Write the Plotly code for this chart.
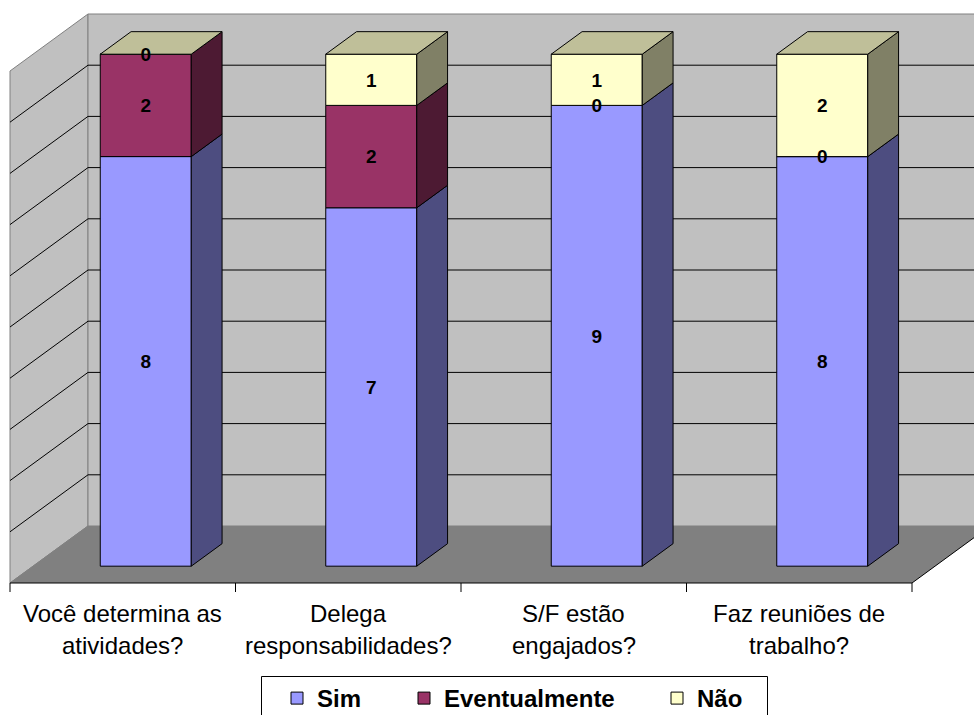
import plotly.graph_objects as go

# ---- data ----
categories = [
    ["Você determina as", "atividades?"],
    ["Delega", "responsabilidades?"],
    ["S/F estão", "engajados?"],
    ["Faz reuniões de", "trabalho?"],
]
series_names = ["Sim", "Eventualmente", "Não"]
sim = [8, 7, 9, 8]
eventualmente = [2, 2, 0, 0]
nao = [0, 1, 1, 2]
value_axis_max = 10
grid_values = [1, 2, 3, 4, 5, 6, 7, 8, 9]

front_colors = ["#9999FF", "#993366", "#FFFFCC"]
side_colors = ["#4D4D80", "#4D1A33", "#808066"]
top_colors = ["#7373BF", "#73264D", "#BFBF99"]

# ---- pseudo-3D geometry (axis units) ----
W, H = 974, 715
PX_PER_CAT = 225.5
PX_PER_VAL = 51.2
LEFT_PX = 10          # pixel of the left edge of the floor front
FLOOR_PX = 583        # pixel of value 0 on the floor front edge
DX = 78 / PX_PER_CAT  # depth offset of the walls, horizontal
DY = 57 / PX_PER_VAL  # depth offset of the walls, vertical
D_FRONT, D_BACK = 0.295, 0.69
BAR_W = 91 / PX_PER_CAT
TICK_LEN = 9 / PX_PER_VAL
LABEL_NUDGE = 2 / PX_PER_VAL

n = len(categories)
x_lo, x_hi = -0.5, n - 0.5
x_range = [x_lo - LEFT_PX / PX_PER_CAT, x_lo + (W - LEFT_PX) / PX_PER_CAT]
y_range = [-(H - FLOOR_PX) / PX_PER_VAL, FLOOR_PX / PX_PER_VAL]

FONT = "Liberation Sans, Arial"


def proj(x, v, d):
    return x + d * DX, v + d * DY


def path(points, close=True):
    s = "M " + " L ".join(f"{x:.5f},{y:.5f}" for x, y in points)
    return s + (" Z" if close else "")


shapes = []
# left side wall
shapes.append(dict(type="path", layer="below", xref="x", yref="y",
                   path=path([proj(x_lo, 0, 0), proj(x_lo, 0, 1),
                              proj(x_lo, value_axis_max, 1), proj(x_lo, value_axis_max, 0)]),
                   fillcolor="#C0C0C0", line=dict(color="#808080", width=1)))
# back wall
shapes.append(dict(type="path", layer="below", xref="x", yref="y",
                   path=path([proj(x_lo, 0, 1), proj(x_hi, 0, 1),
                              proj(x_hi, value_axis_max, 1), proj(x_lo, value_axis_max, 1)]),
                   fillcolor="#C0C0C0", line=dict(color="#808080", width=1)))
# floor
shapes.append(dict(type="path", layer="below", xref="x", yref="y",
                   path=path([proj(x_lo, 0, 0), proj(x_hi, 0, 0),
                              proj(x_hi, 0, 1), proj(x_lo, 0, 1)]),
                   fillcolor="#808080", line=dict(width=0)))
shapes.append(dict(type="path", layer="below", xref="x", yref="y",
                   path=path([proj(x_lo, 0, 0), proj(x_lo, 0, 1)], close=False),
                   line=dict(color="#808080", width=1)))
# gridlines across side and back walls
for g in grid_values:
    shapes.append(dict(type="path", layer="below", xref="x", yref="y",
                       path=path([proj(x_lo, g, 0), proj(x_lo, g, 1), proj(x_hi, g, 1)], close=False),
                       line=dict(color="black", width=1)))
# category axis: front edge, right edge of floor, tick marks
shapes.append(dict(type="path", layer="below", xref="x", yref="y",
                   path=path([proj(x_lo, 0, 0), proj(x_hi, 0, 0), proj(x_hi, 0, 1)], close=False),
                   line=dict(color="black", width=1)))
for k in range(n + 1):
    xt = x_lo + k
    shapes.append(dict(type="line", layer="below", xref="x", yref="y",
                       x0=xt, x1=xt, y0=0, y1=-TICK_LEN,
                       line=dict(color="black", width=1)))
# frame around the legend entries
shapes.append(dict(type="rect", xref="paper", yref="paper", layer="above",
                   x0=261.5 / W, x1=767.5 / W, y0=1 - 730 / H, y1=1 - 676.5 / H,
                   fillcolor="rgba(0,0,0,0)", line=dict(color="black", width=1)))

fig = go.Figure()

series = [sim, eventualmente, nao]
bases = []
acc = [0] * n
for vals in series:
    bases.append(list(acc))
    acc = [a + v for a, v in zip(acc, vals)]
totals = acc

legend_ids = ["legend", "legend2", "legend3"]

# front faces
for s, vals in enumerate(series):
    fig.add_trace(go.Bar(
        x=[proj(i, 0, D_FRONT)[0] for i in range(n)],
        y=vals,
        base=[proj(i, b, D_FRONT)[1] for i, b in enumerate(bases[s])],
        width=BAR_W,
        name=series_names[s],
        legend=legend_ids[s],
        marker=dict(color=front_colors[s], line=dict(color="black", width=1)),
        hoverinfo="skip",
    ))

# right side faces
for s, vals in enumerate(series):
    xs, ys = [], []
    for i in range(n):
        if vals[i] <= 0:
            continue
        v0, v1 = bases[s][i], bases[s][i] + vals[i]
        xr = i + BAR_W / 2
        for p in [proj(xr, v0, D_FRONT), proj(xr, v0, D_BACK), proj(xr, v1, D_BACK),
                  proj(xr, v1, D_FRONT), proj(xr, v0, D_FRONT)]:
            xs.append(p[0]); ys.append(p[1])
        xs.append(None); ys.append(None)
    fig.add_trace(go.Scatter(x=xs, y=ys, mode="lines", fill="toself",
                             fillcolor=side_colors[s], line=dict(color="black", width=1),
                             showlegend=False, hoverinfo="skip"))

# top faces (coloured by the uppermost series)
xs, ys = [], []
for i in range(n):
    t = totals[i]
    xl, xr = i - BAR_W / 2, i + BAR_W / 2
    for p in [proj(xl, t, D_FRONT), proj(xr, t, D_FRONT), proj(xr, t, D_BACK),
              proj(xl, t, D_BACK), proj(xl, t, D_FRONT)]:
        xs.append(p[0]); ys.append(p[1])
    xs.append(None); ys.append(None)
fig.add_trace(go.Scatter(x=xs, y=ys, mode="lines", fill="toself",
                         fillcolor=top_colors[-1], line=dict(color="black", width=1),
                         showlegend=False, hoverinfo="skip"))

# value labels at the middle of each segment
lx, ly, lt = [], [], []
for s, vals in enumerate(series):
    for i in range(n):
        px, py = proj(i, bases[s][i] + vals[i] / 2, D_FRONT)
        lx.append(px); ly.append(py - LABEL_NUDGE); lt.append(str(vals[i]))
fig.add_trace(go.Scatter(x=lx, y=ly, mode="text", text=lt,
                         textfont=dict(family=FONT, size=19, color="black", weight="bold"),
                         showlegend=False, hoverinfo="skip"))

# category labels
annotations = []
line_px = [613, 645]
for i, lines in enumerate(categories):
    for j, txt in enumerate(lines):
        annotations.append(dict(x=i, y=1 - line_px[j] / H, xref="x", yref="paper",
                                text=txt, showarrow=False, xanchor="center", yanchor="middle",
                                font=dict(family=FONT, size=24, color="black")))

legend_style = dict(orientation="h", xanchor="left", y=1 - 676 / H, yanchor="top",
                    bgcolor="rgba(0,0,0,0)", borderwidth=0,
                    font=dict(family=FONT, size=24, color="black", weight="bold"),
                    itemclick=False, itemdoubleclick=False)
legend_left_px = [277, 404, 657]

fig.update_layout(
    width=W, height=H,
    margin=dict(l=0, r=0, t=0, b=0, autoexpand=False),
    paper_bgcolor="white", plot_bgcolor="white",
    barmode="overlay",
    xaxis=dict(range=x_range, visible=False, fixedrange=True),
    yaxis=dict(range=y_range, visible=False, fixedrange=True),
    shapes=shapes,
    annotations=annotations,
    showlegend=True,
    legend=dict(legend_style, x=legend_left_px[0] / W),
    legend2=dict(legend_style, x=legend_left_px[1] / W),
    legend3=dict(legend_style, x=legend_left_px[2] / W),
)

fig.write_html("out.html")
